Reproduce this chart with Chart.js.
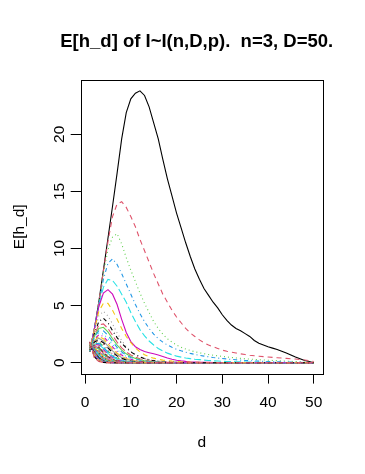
<!DOCTYPE html>
<html>
<head>
<meta charset="utf-8">
<script src="https://cdn.jsdelivr.net/npm/chart.js@4.4.1/dist/chart.umd.min.js"></script>
<style>
  body { margin: 0; background: #fff; }
</style>
</head>
<body>
<canvas id="chart" width="365" height="474"></canvas>
<script>
// d = 1..50
var d = [1,2,3,4,5,6,7,8,9,10,11,12,13,14,15,16,17,18,19,20,21,22,23,24,25,26,27,28,29,30,
         31,32,33,34,35,36,37,38,39,40,41,42,43,44,45,46,47,48,49,50];
var xTicks = [0, 10, 20, 30, 40, 50];
var yTicks = [0, 5, 10, 15, 20];

// E[h_d], one row per curve
var curves = [
  [1.0,2.9,5.3,8.1,10.9,13.7,16.6,19.6,21.9,23.1, 23.6,23.8,23.4,22.4,21.0,19.6,17.8,16.1,14.6,13.1, 11.8,10.5,9.3,8.2,7.3,6.5,5.9,5.3,4.8,4.2, 3.7,3.3,3.0,2.8,2.55,2.3,1.95,1.7,1.55,1.4, 1.28,1.15,1.0,0.85,0.67,0.5,0.35,0.2,0.1,0],
  [1.0,2.9,5.3,8.0,10.6,12.8,13.9,14.1,13.6,12.8, 11.9,10.8,9.8,8.8,7.8,6.9,6.0,5.3,4.6,4.0, 3.5,3.0,2.6,2.3,2.0,1.75,1.55,1.4,1.25,1.1, 1.0,0.92,0.85,0.78,0.72,0.66,0.61,0.57,0.53,0.5, 0.47,0.44,0.41,0.38,0.35,0.32,0.28,0.24,0.18,0.1],
  [1.0,2.9,5.2,7.8,9.9,11.0,11.3,10.4,9.2,8.1, 7.1,6.1,5.2,4.4,3.6,3.0,2.5,2.1,1.8,1.55, 1.35,1.2,1.07,0.96,0.87,0.79,0.72,0.66,0.6,0.55, 0.5,0.46,0.42,0.38,0.35,0.32,0.29,0.26,0.24,0.22, 0.2,0.18,0.16,0.14,0.12,0.1,0.08,0.06,0.04,0.02],
  [1.0,2.9,5.1,7.3,8.7,9.1,8.6,7.8,6.9,6.0, 5.1,4.3,3.6,3.0,2.5,2.1,1.8,1.55,1.35,1.18, 1.04,0.92,0.82,0.73,0.65,0.58,0.52,0.46,0.41,0.37, 0.33,0.29,0.26,0.23,0.2,0.18,0.16,0.14,0.12,0.1, 0.09,0.08,0.07,0.06,0.05,0.04,0.03,0.02,0.01,0],
  [1.0,2.9,5.0,6.6,7.3,7.2,6.7,6.0,5.3,4.4, 3.6,2.9,2.35,1.9,1.55,1.25,1.02,0.84,0.7,0.58, 0.49,0.42,0.36,0.31,0.27,0.23,0.2,0.17,0.15,0.13, 0.11,0.1,0.09,0.08,0.07,0.06,0.05,0.04,0.04,0.03, 0.03,0.02,0.02,0.02,0.01,0.01,0.01,0,0,0],
  [1.0,2.9,4.9,6.1,6.4,6.0,5.1,3.8,2.65,1.85, 1.4,1.15,0.98,0.88,0.78,0.68,0.55,0.42,0.3,0.22, 0.16,0.12,0.09,0.07,0.05,0.04,0.03,0.02,0.01,0, 0,0,0,0,0,0,0,0,0,0, 0,0,0,0,0,0,0,0,0,0],
  [1.0,2.8,4.5,5.2,5.2,4.6,3.8,3.0,2.3,1.75, 1.3,0.95,0.7,0.52,0.4,0.3,0.23,0.18,0.14,0.11, 0.08,0.06,0.05,0.04,0.03,0.02,0.01,0,0,0, 0,0,0,0,0,0,0,0,0,0, 0,0,0,0,0,0,0,0,0,0],
  [1.0,2.7,4.1,4.5,4.1,3.4,2.6,1.95,1.4,1.0, 0.72,0.52,0.38,0.28,0.2,0.15,0.11,0.08,0.06,0.04, 0.03,0.02,0.01,0,0,0,0,0,0,0, 0,0,0,0,0,0,0,0,0,0, 0,0,0,0,0,0,0,0,0,0],
  [1.0,2.5,3.6,3.9,3.5,2.8,2.2,1.7,1.3,0.95, 0.7,0.5,0.36,0.26,0.18,0.13,0.09,0.06,0.04,0.03, 0.02,0.01,0,0,0,0,0,0,0,0, 0,0,0,0,0,0,0,0,0,0, 0,0,0,0,0,0,0,0,0,0],
  [1.0,2.4,3.3,3.4,3.0,2.4,1.8,1.3,0.95,0.68, 0.48,0.34,0.24,0.17,0.12,0.08,0.06,0.04,0.03,0.02, 0.01,0,0,0,0,0,0,0,0,0, 0,0,0,0,0,0,0,0,0,0, 0,0,0,0,0,0,0,0,0,0],
  [1.0,2.3,3.0,3.1,2.7,2.1,1.55,1.1,0.78,0.55, 0.38,0.26,0.18,0.12,0.08,0.05,0.03,0.02,0.01,0, 0,0,0,0,0,0,0,0,0,0, 0,0,0,0,0,0,0,0,0,0, 0,0,0,0,0,0,0,0,0,0],
  [1.0,2.2,2.8,2.8,2.4,1.85,1.35,0.95,0.66,0.45, 0.31,0.21,0.14,0.1,0.06,0.04,0.03,0.02,0.01,0, 0,0,0,0,0,0,0,0,0,0, 0,0,0,0,0,0,0,0,0,0, 0,0,0,0,0,0,0,0,0,0],
  [1.0,2.1,2.6,2.5,2.1,1.6,1.15,0.8,0.55,0.37, 0.25,0.17,0.11,0.07,0.05,0.03,0.02,0.01,0,0, 0,0,0,0,0,0,0,0,0,0, 0,0,0,0,0,0,0,0,0,0, 0,0,0,0,0,0,0,0,0,0],
  [1.0,2.0,2.45,2.3,1.85,1.38,0.98,0.67,0.45,0.3, 0.2,0.13,0.08,0.05,0.03,0.02,0.01,0,0,0, 0,0,0,0,0,0,0,0,0,0, 0,0,0,0,0,0,0,0,0,0, 0,0,0,0,0,0,0,0,0,0],
  [1.0,1.9,2.3,2.1,1.65,1.2,0.83,0.56,0.37,0.24, 0.16,0.1,0.06,0.04,0.02,0.01,0,0,0,0, 0,0,0,0,0,0,0,0,0,0, 0,0,0,0,0,0,0,0,0,0, 0,0,0,0,0,0,0,0,0,0],
  [1.0,1.85,2.15,1.9,1.45,1.03,0.7,0.46,0.3,0.19, 0.12,0.07,0.04,0.02,0.01,0,0,0,0,0, 0,0,0,0,0,0,0,0,0,0, 0,0,0,0,0,0,0,0,0,0, 0,0,0,0,0,0,0,0,0,0],
  [1.0,1.8,2.0,1.75,1.3,0.9,0.6,0.38,0.24,0.15, 0.09,0.05,0.03,0.02,0.01,0,0,0,0,0, 0,0,0,0,0,0,0,0,0,0, 0,0,0,0,0,0,0,0,0,0, 0,0,0,0,0,0,0,0,0,0],
  [1.0,1.75,1.9,1.6,1.15,0.78,0.5,0.31,0.19,0.11, 0.07,0.04,0.02,0.01,0,0,0,0,0,0, 0,0,0,0,0,0,0,0,0,0, 0,0,0,0,0,0,0,0,0,0, 0,0,0,0,0,0,0,0,0,0],
  [1.0,1.7,1.8,1.45,1.02,0.67,0.42,0.26,0.15,0.09, 0.05,0.03,0.02,0.01,0,0,0,0,0,0, 0,0,0,0,0,0,0,0,0,0, 0,0,0,0,0,0,0,0,0,0, 0,0,0,0,0,0,0,0,0,0],
  [1.0,1.65,1.7,1.35,0.92,0.58,0.35,0.2,0.12,0.07, 0.04,0.02,0.01,0,0,0,0,0,0,0, 0,0,0,0,0,0,0,0,0,0, 0,0,0,0,0,0,0,0,0,0, 0,0,0,0,0,0,0,0,0,0],
  [1.05,1.62,1.62,1.25,0.82,0.5,0.29,0.16,0.09,0.05, 0,0,0,0,0,0,0,0,0,0, 0,0,0,0,0,0,0,0,0,0, 0,0,0,0,0,0,0,0,0,0, 0,0,0,0,0,0,0,0,0,0],
  [1.1,1.6,1.55,1.15,0.73,0.43,0.24,0.13,0.07,0.03, 0,0,0,0,0,0,0,0,0,0, 0,0,0,0,0,0,0,0,0,0, 0,0,0,0,0,0,0,0,0,0, 0,0,0,0,0,0,0,0,0,0],
  [1.1,1.58,1.48,1.06,0.66,0.37,0.2,0.1,0.05,0.02, 0,0,0,0,0,0,0,0,0,0, 0,0,0,0,0,0,0,0,0,0, 0,0,0,0,0,0,0,0,0,0, 0,0,0,0,0,0,0,0,0,0],
  [1.15,1.55,1.4,0.97,0.59,0.32,0.17,0.08,0.04,0.02, 0,0,0,0,0,0,0,0,0,0, 0,0,0,0,0,0,0,0,0,0, 0,0,0,0,0,0,0,0,0,0, 0,0,0,0,0,0,0,0,0,0],
  [1.15,1.52,1.33,0.89,0.52,0.28,0.14,0.07,0.03,0.01, 0,0,0,0,0,0,0,0,0,0, 0,0,0,0,0,0,0,0,0,0, 0,0,0,0,0,0,0,0,0,0, 0,0,0,0,0,0,0,0,0,0],
  [1.2,1.5,1.27,0.82,0.46,0.24,0.12,0.05,0.02,0.01, 0,0,0,0,0,0,0,0,0,0, 0,0,0,0,0,0,0,0,0,0, 0,0,0,0,0,0,0,0,0,0, 0,0,0,0,0,0,0,0,0,0],
  [1.2,1.47,1.2,0.75,0.41,0.2,0.1,0.04,0.02,0, 0,0,0,0,0,0,0,0,0,0, 0,0,0,0,0,0,0,0,0,0, 0,0,0,0,0,0,0,0,0,0, 0,0,0,0,0,0,0,0,0,0],
  [1.25,1.44,1.14,0.68,0.36,0.17,0.08,0.03,0.01,0, 0,0,0,0,0,0,0,0,0,0, 0,0,0,0,0,0,0,0,0,0, 0,0,0,0,0,0,0,0,0,0, 0,0,0,0,0,0,0,0,0,0],
  [1.25,1.41,1.08,0.62,0.32,0.15,0.06,0.03,0.01,0, 0,0,0,0,0,0,0,0,0,0, 0,0,0,0,0,0,0,0,0,0, 0,0,0,0,0,0,0,0,0,0, 0,0,0,0,0,0,0,0,0,0],
  [1.3,1.38,1.02,0.56,0.28,0.12,0.05,0.02,0.01,0, 0,0,0,0,0,0,0,0,0,0, 0,0,0,0,0,0,0,0,0,0, 0,0,0,0,0,0,0,0,0,0, 0,0,0,0,0,0,0,0,0,0],
  [1.3,1.35,0.96,0.51,0.24,0.1,0.04,0.02,0,0, 0,0,0,0,0,0,0,0,0,0, 0,0,0,0,0,0,0,0,0,0, 0,0,0,0,0,0,0,0,0,0, 0,0,0,0,0,0,0,0,0,0],
  [1.35,1.32,0.9,0.46,0.21,0.09,0.03,0.01,0,0, 0,0,0,0,0,0,0,0,0,0, 0,0,0,0,0,0,0,0,0,0, 0,0,0,0,0,0,0,0,0,0, 0,0,0,0,0,0,0,0,0,0],
  [1.35,1.28,0.84,0.41,0.18,0.07,0.03,0.01,0,0, 0,0,0,0,0,0,0,0,0,0, 0,0,0,0,0,0,0,0,0,0, 0,0,0,0,0,0,0,0,0,0, 0,0,0,0,0,0,0,0,0,0],
  [1.4,1.25,0.79,0.37,0.15,0.06,0.02,0.01,0,0, 0,0,0,0,0,0,0,0,0,0, 0,0,0,0,0,0,0,0,0,0, 0,0,0,0,0,0,0,0,0,0, 0,0,0,0,0,0,0,0,0,0],
  [1.4,1.21,0.73,0.33,0.13,0.05,0.02,0,0,0, 0,0,0,0,0,0,0,0,0,0, 0,0,0,0,0,0,0,0,0,0, 0,0,0,0,0,0,0,0,0,0, 0,0,0,0,0,0,0,0,0,0],
  [1.45,1.17,0.68,0.29,0.11,0.04,0.01,0,0,0, 0,0,0,0,0,0,0,0,0,0, 0,0,0,0,0,0,0,0,0,0, 0,0,0,0,0,0,0,0,0,0, 0,0,0,0,0,0,0,0,0,0],
  [1.45,1.13,0.63,0.26,0.09,0.03,0.01,0,0,0, 0,0,0,0,0,0,0,0,0,0, 0,0,0,0,0,0,0,0,0,0, 0,0,0,0,0,0,0,0,0,0, 0,0,0,0,0,0,0,0,0,0],
  [1.5,1.09,0.58,0.23,0.08,0.03,0.01,0,0,0, 0,0,0,0,0,0,0,0,0,0, 0,0,0,0,0,0,0,0,0,0, 0,0,0,0,0,0,0,0,0,0, 0,0,0,0,0,0,0,0,0,0],
  [1.5,1.05,0.53,0.2,0.07,0.02,0,0,0,0, 0,0,0,0,0,0,0,0,0,0, 0,0,0,0,0,0,0,0,0,0, 0,0,0,0,0,0,0,0,0,0, 0,0,0,0,0,0,0,0,0,0],
  [1.55,1.0,0.48,0.17,0.05,0.02,0,0,0,0, 0,0,0,0,0,0,0,0,0,0, 0,0,0,0,0,0,0,0,0,0, 0,0,0,0,0,0,0,0,0,0, 0,0,0,0,0,0,0,0,0,0],
  [1.55,0.96,0.44,0.15,0.04,0.01,0,0,0,0, 0,0,0,0,0,0,0,0,0,0, 0,0,0,0,0,0,0,0,0,0, 0,0,0,0,0,0,0,0,0,0, 0,0,0,0,0,0,0,0,0,0],
  [1.6,0.92,0.4,0.13,0.04,0.01,0,0,0,0, 0,0,0,0,0,0,0,0,0,0, 0,0,0,0,0,0,0,0,0,0, 0,0,0,0,0,0,0,0,0,0, 0,0,0,0,0,0,0,0,0,0],
  [1.6,0.87,0.36,0.11,0.03,0.01,0,0,0,0, 0,0,0,0,0,0,0,0,0,0, 0,0,0,0,0,0,0,0,0,0, 0,0,0,0,0,0,0,0,0,0, 0,0,0,0,0,0,0,0,0,0],
  [1.65,0.82,0.32,0.09,0.02,0,0,0,0,0, 0,0,0,0,0,0,0,0,0,0, 0,0,0,0,0,0,0,0,0,0, 0,0,0,0,0,0,0,0,0,0, 0,0,0,0,0,0,0,0,0,0],
  [1.65,0.77,0.28,0.08,0.02,0,0,0,0,0, 0,0,0,0,0,0,0,0,0,0, 0,0,0,0,0,0,0,0,0,0, 0,0,0,0,0,0,0,0,0,0, 0,0,0,0,0,0,0,0,0,0],
  [1.7,0.72,0.24,0.06,0.01,0,0,0,0,0, 0,0,0,0,0,0,0,0,0,0, 0,0,0,0,0,0,0,0,0,0, 0,0,0,0,0,0,0,0,0,0, 0,0,0,0,0,0,0,0,0,0],
  [1.7,0.66,0.2,0.05,0.01,0,0,0,0,0, 0,0,0,0,0,0,0,0,0,0, 0,0,0,0,0,0,0,0,0,0, 0,0,0,0,0,0,0,0,0,0, 0,0,0,0,0,0,0,0,0,0],
  [1.75,0.6,0.17,0.04,0.01,0,0,0,0,0, 0,0,0,0,0,0,0,0,0,0, 0,0,0,0,0,0,0,0,0,0, 0,0,0,0,0,0,0,0,0,0, 0,0,0,0,0,0,0,0,0,0],
  [1.8,0.53,0.13,0.03,0,0,0,0,0,0, 0,0,0,0,0,0,0,0,0,0, 0,0,0,0,0,0,0,0,0,0, 0,0,0,0,0,0,0,0,0,0, 0,0,0,0,0,0,0,0,0,0],
  [1.85,0.45,0.1,0.02,0,0,0,0,0,0, 0,0,0,0,0,0,0,0,0,0, 0,0,0,0,0,0,0,0,0,0, 0,0,0,0,0,0,0,0,0,0, 0,0,0,0,0,0,0,0,0,0]
];

// R's matplot colours and line types
var palette = ["#000000", "#DF536B", "#61D04F", "#2297E6", "#28E2E5", "#CD0BBC", "#F5C710", "#9E9E9E"];
var dashes = [[], [5, 4], [1, 3], [1, 3, 4, 3], [7, 3]];

var FONT = "'Liberation Sans', Arial, Helvetica, sans-serif";
Chart.defaults.font.family = FONT;
Chart.defaults.font.size = 15.5;
Chart.defaults.color = '#000';

// R style axis range: data range stretched by 4% each side
var yMaxData = Math.max.apply(null, curves.map(function (c) { return Math.max.apply(null, c); }));
var xMin = d[0] - 0.04 * (d[d.length - 1] - d[0]);
var xMax = d[d.length - 1] + 0.04 * (d[d.length - 1] - d[0]);
var yMin = -0.04 * yMaxData;
var yMax = yMaxData * 1.04;

var datasets = curves.map(function (vals, i) {
    return {
        data: vals.map(function (v, j) { return { x: d[j], y: v }; }),
        borderColor: palette[i % palette.length],
        borderDash: dashes[i % dashes.length],
        borderWidth: 1.1,
        pointRadius: 0,
        tension: 0,
        fill: false,
        order: -i
    };
});

// box round the plot region
var boxPlugin = {
    id: 'box',
    afterDatasetsDraw: function (chart) {
        var a = chart.chartArea, ctx = chart.ctx;
        ctx.save();
        ctx.strokeStyle = '#000';
        ctx.lineWidth = 1;
        ctx.strokeRect(Math.round(a.left) + 0.5, Math.round(a.top) + 0.5,
                       Math.round(a.right - a.left), Math.round(a.bottom - a.top));
        ctx.restore();
    }
};

var ctx = document.getElementById('chart');

var chart = new Chart(ctx, {
    type: 'line',
    data: { datasets: datasets },
    options: {
        responsive: false,
        animation: false,
        devicePixelRatio: 1,
        layout: { padding: { left: 28.4, right: 0, top: 0, bottom: 0 } },
        plugins: {
            legend: { display: false },
            tooltip: { enabled: false },
            title: {
                display: true,
                text: 'E[h_d] of I~I(n,D,p).  n=3, D=50.',
                color: '#000',
                font: { size: 18.5, weight: 'bold' },
                padding: { top: 30.5, bottom: 27.3 }
            }
        },
        scales: {
            x: {
                type: 'linear',
                min: xMin,
                max: xMax,
                afterBuildTicks: function (s) { s.ticks = xTicks.map(function (v) { return { value: v }; }); },
                afterFit: function (s) { s.height = 100.4; },
                grid: { drawOnChartArea: false, drawTicks: true, tickLength: 10, tickColor: '#000', tickWidth: 1 },
                border: { display: false },
                ticks: { padding: 9.6, maxRotation: 0, autoSkip: false, color: '#000' },
                title: { display: true, text: 'd', color: '#000', padding: { top: 0, bottom: 22.1 } }
            },
            y: {
                type: 'linear',
                min: yMin,
                max: yMax,
                afterBuildTicks: function (s) { s.ticks = yTicks.map(function (v) { return { value: v }; }); },
                afterFit: function (s) { s.width = 52.3; },
                grid: { drawOnChartArea: false, drawTicks: true, tickLength: 10, tickColor: '#000', tickWidth: 1 },
                border: { display: false },
                ticks: { padding: 2.6, minRotation: 90, maxRotation: 90, crossAlign: 'center', autoSkip: false, color: '#000' },
                title: { display: true, text: 'E[h_d]', color: '#000', padding: { top: -17.7, bottom: 0 } }
            },
            yRight: {
                position: 'right',
                display: true,
                ticks: { display: false },
                grid: { display: false },
                border: { display: false },
                afterFit: function (s) { s.width = 42.3; }
            }
        }
    },
    plugins: [boxPlugin]
});
</script>
</body>
</html>
